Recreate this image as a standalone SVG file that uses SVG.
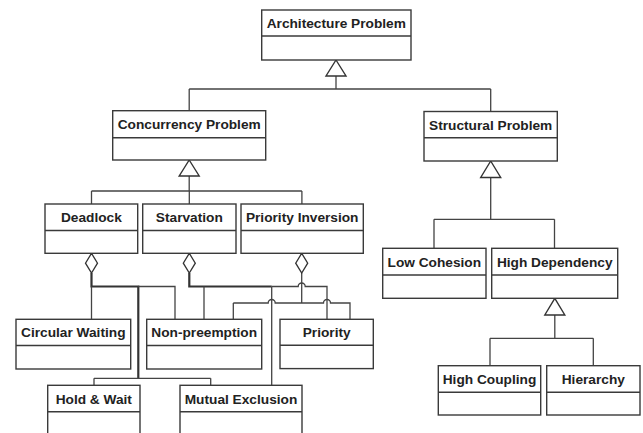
<svg xmlns="http://www.w3.org/2000/svg" width="643" height="433" viewBox="0 0 643 433">
  <style>
    .box { fill: #ffffff; stroke: #3a3a3a; stroke-width: 1.4; }
    .div { stroke: #3a3a3a; stroke-width: 1.4; }
    .lbl { font-family: "Liberation Sans", Arial, sans-serif; font-weight: bold; font-size: 13.7px; fill: #222222; text-anchor: middle; }
    .ln { fill: none; stroke: #444444; stroke-width: 1.3; }
    .trunk { fill: none; stroke: #333333; stroke-width: 2.2; }
    .tri { fill: #ffffff; stroke: #333333; stroke-width: 1.4; }
    .dia { fill: #ffffff; stroke: #333333; stroke-width: 1.3; }
  </style>
  <rect width="643" height="433" fill="#ffffff"/>

  <!-- connectors -->
  <g id="connectors">
    <!-- generalization: Architecture Problem -->
    <path class="ln" d="M336,76 V89 M189.2,89 H490.7 M189.2,89 V110.7 M490.7,89 V111.5"/>
    <polygon class="tri" points="336,60 346,76 326,76"/>
    <!-- generalization: Concurrency Problem -->
    <path class="ln" d="M189.2,176 V191 M91.5,191 H301.9 M91.5,191 V204 M189.3,191 V204 M301.9,191 V204"/>
    <polygon class="tri" points="189.2,160 199.2,176 179.2,176"/>
    <!-- generalization: Structural Problem -->
    <path class="ln" d="M490.7,177.5 V219.3 M434,219.3 H554.5 M434,219.3 V248.3 M554.5,219.3 V248.3"/>
    <polygon class="tri" points="490.7,161 500.7,177.5 480.7,177.5"/>
    <!-- generalization: High Dependency -->
    <path class="ln" d="M554.8,315 V338.3 M490,338.3 H593.3 M490,338.3 V365.7 M593.3,338.3 V365.7"/>
    <polygon class="tri" points="554.8,298.3 564.8,315 544.8,315"/>

    <!-- aggregation: Deadlock -->
    <path class="trunk" d="M91.5,273 V286.5 H138.3 V378.3"/>
    <path class="ln" d="M91.5,286.5 V319.3 M138.3,286.5 H175 V319.3 M94,378.3 H210.7 M94,378.3 V385.3 M210.7,378.3 V385.3"/>
    <polygon class="dia" points="91.5,253.3 97.5,263.2 91.5,273 85.5,263.2"/>

    <!-- aggregation: Starvation -->
    <path class="trunk" d="M189.3,273 V286.5 H271.7"/>
    <path class="ln" d="M204,286.5 V319.3 M271.7,286.5 V385.3 M271.7,286.5 H298.2 A3.5,3.5 0 0 1 305.2,286.5 H327 V319.3"/>
    <polygon class="dia" points="189.3,253.3 195.3,263.2 189.3,273 183.3,263.2"/>

    <!-- aggregation: Priority Inversion -->
    <path class="ln" d="M301.7,273 V303 M233.3,303 H268.2 A3.5,3.5 0 0 1 275.2,303 H323.5 A3.5,3.5 0 0 1 330.5,303 H350 V319.3 M233.3,303 V319.3"/>
    <polygon class="dia" points="301.7,253.3 307.7,263.2 301.7,273 295.7,263.2"/>
  </g>

  <!-- class nodes -->
  <g id="architecture-problem">
    <rect class="box" x="261.7" y="10" width="149.3" height="50"/>
    <line class="div" x1="261.7" y1="36" x2="411" y2="36"/>
    <text class="lbl" x="336.3" y="28">Architecture Problem</text>
  </g>
  <g id="concurrency-problem">
    <rect class="box" x="112.7" y="110.7" width="153" height="49.3"/>
    <line class="div" x1="112.7" y1="137.7" x2="265.7" y2="137.7"/>
    <text class="lbl" x="189.2" y="129.2">Concurrency Problem</text>
  </g>
  <g id="structural-problem">
    <rect class="box" x="424" y="111.5" width="133.3" height="49.5"/>
    <line class="div" x1="424" y1="137.7" x2="557.3" y2="137.7"/>
    <text class="lbl" x="490.7" y="129.6">Structural Problem</text>
  </g>
  <g id="deadlock">
    <rect class="box" x="45" y="204" width="92.7" height="49.3"/>
    <line class="div" x1="45" y1="230.5" x2="137.7" y2="230.5"/>
    <text class="lbl" x="91.4" y="222.3">Deadlock</text>
  </g>
  <g id="starvation">
    <rect class="box" x="142.7" y="204" width="93.3" height="49.3"/>
    <line class="div" x1="142.7" y1="230.5" x2="236" y2="230.5"/>
    <text class="lbl" x="189.3" y="222.3">Starvation</text>
  </g>
  <g id="priority-inversion">
    <rect class="box" x="241" y="204" width="122.3" height="49.3"/>
    <line class="div" x1="241" y1="230.5" x2="363.3" y2="230.5"/>
    <text class="lbl" x="302.2" y="222.3">Priority Inversion</text>
  </g>
  <g id="low-cohesion">
    <rect class="box" x="382.7" y="248.3" width="103.3" height="50"/>
    <line class="div" x1="382.7" y1="275" x2="486" y2="275"/>
    <text class="lbl" x="434.3" y="266.7">Low Cohesion</text>
  </g>
  <g id="high-dependency">
    <rect class="box" x="491.7" y="248.3" width="126" height="50"/>
    <line class="div" x1="491.7" y1="275" x2="617.7" y2="275"/>
    <text class="lbl" x="554.7" y="266.7">High Dependency</text>
  </g>
  <g id="circular-waiting">
    <rect class="box" x="16" y="319.3" width="114.7" height="49.7"/>
    <line class="div" x1="16" y1="345.5" x2="130.7" y2="345.5"/>
    <text class="lbl" x="73.3" y="337.4">Circular Waiting</text>
  </g>
  <g id="non-preemption">
    <rect class="box" x="146.7" y="319.3" width="115" height="49.7"/>
    <line class="div" x1="146.7" y1="345.5" x2="261.7" y2="345.5"/>
    <text class="lbl" x="204.2" y="337.4">Non-preemption</text>
  </g>
  <g id="priority">
    <rect class="box" x="280" y="319.3" width="93.3" height="49.3"/>
    <line class="div" x1="280" y1="345.3" x2="373.3" y2="345.3"/>
    <text class="lbl" x="326.7" y="337.4">Priority</text>
  </g>
  <g id="hold-and-wait">
    <rect class="box" x="47.7" y="385.3" width="92.3" height="52"/>
    <line class="div" x1="47.7" y1="411.7" x2="140" y2="411.7"/>
    <text class="lbl" x="93.8" y="403.5">Hold &amp; Wait</text>
  </g>
  <g id="mutual-exclusion">
    <rect class="box" x="180" y="385.3" width="122" height="52"/>
    <line class="div" x1="180" y1="411.7" x2="302" y2="411.7"/>
    <text class="lbl" x="241" y="403.5">Mutual Exclusion</text>
  </g>
  <g id="high-coupling">
    <rect class="box" x="438.3" y="365.7" width="102.4" height="49.3"/>
    <line class="div" x1="438.3" y1="392.3" x2="540.7" y2="392.3"/>
    <text class="lbl" x="489.5" y="384">High Coupling</text>
  </g>
  <g id="hierarchy">
    <rect class="box" x="546.7" y="365.7" width="93.3" height="49.3"/>
    <line class="div" x1="546.7" y1="392.3" x2="640" y2="392.3"/>
    <text class="lbl" x="593.3" y="384">Hierarchy</text>
  </g>
</svg>
